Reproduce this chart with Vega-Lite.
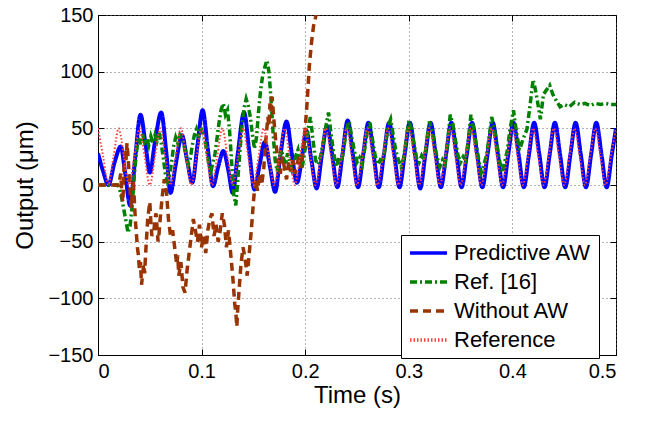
{
"$schema": "https://vega.github.io/schema/vega-lite/v6.json",
"width": 518, "height": 340,
"autosize": {"type": "none"},
"padding": {"left": 98, "top": 15, "right": 31, "bottom": 67},
"background": "white",
"config": {
  "font": "Liberation Sans",
  "view": {"stroke": "black", "strokeWidth": 1},
  "axis": {"labelFont": "Liberation Sans", "labelFontSize": 20, "labelColor": "black", "titleFont": "Liberation Sans", "titleFontSize": 24, "titleFontWeight": "normal", "titleColor": "black", "domainColor": "black", "tickColor": "black", "tickSize": -6, "gridColor": "#666666", "gridDash": [1, 3], "gridOpacity": 1, "gridWidth": 1}
},
"datasets": {
"pa": [{"t":0,"v":28},{"t":0.005,"v":12},{"t":0.01,"v":0},{"t":0.016,"v":20},{"t":0.022,"v":34},{"t":0.026,"v":12},{"t":0.031,"v":-18},{"t":0.036,"v":25},{"t":0.041,"v":62},{"t":0.046,"v":35},{"t":0.05,"v":11},{"t":0.055,"v":38},{"t":0.061,"v":64},{"t":0.066,"v":28},{"t":0.07,"v":-7},{"t":0.075,"v":18},{"t":0.081,"v":44},{"t":0.086,"v":22},{"t":0.091,"v":2},{"t":0.096,"v":35},{"t":0.101,"v":66},{"t":0.106,"v":32},{"t":0.111,"v":-1},{"t":0.116,"v":16},{"t":0.121,"v":30},{"t":0.126,"v":12},{"t":0.13,"v":-7},{"t":0.135,"v":28},{"t":0.141,"v":64},{"t":0.146,"v":30},{"t":0.151,"v":-4},{"t":0.156,"v":18},{"t":0.161,"v":38},{"t":0.166,"v":16},{"t":0.171,"v":-6},{"t":0.176,"v":26},{"t":0.182,"v":56},{"t":0.187,"v":28},{"t":0.192,"v":2},{"t":0.197,"v":25},{"t":0.201,"v":48},{"t":0.206,"v":22},{"t":0.211,"v":-3},{"t":0.216,"v":26},{"t":0.221,"v":52},{"t":0.226,"v":27},{"t":0.231,"v":-2},{"t":0.236,"v":27},{"t":0.241,"v":57},{"t":0.246,"v":27},{"t":0.251,"v":-2},{"t":0.256,"v":27},{"t":0.261,"v":55},{"t":0.266,"v":27},{"t":0.271,"v":-2},{"t":0.276,"v":27},{"t":0.281,"v":55},{"t":0.286,"v":27},{"t":0.291,"v":-2},{"t":0.296,"v":27},{"t":0.301,"v":55},{"t":0.306,"v":27},{"t":0.311,"v":-3},{"t":0.316,"v":27},{"t":0.321,"v":55},{"t":0.326,"v":27},{"t":0.331,"v":-2},{"t":0.336,"v":27},{"t":0.341,"v":55},{"t":0.346,"v":27},{"t":0.351,"v":-2},{"t":0.356,"v":27},{"t":0.361,"v":55},{"t":0.366,"v":27},{"t":0.371,"v":-2},{"t":0.376,"v":27},{"t":0.381,"v":55},{"t":0.386,"v":27},{"t":0.391,"v":-2},{"t":0.396,"v":27},{"t":0.401,"v":55},{"t":0.406,"v":27},{"t":0.411,"v":-2},{"t":0.416,"v":27},{"t":0.421,"v":55},{"t":0.426,"v":27},{"t":0.431,"v":-2},{"t":0.436,"v":27},{"t":0.441,"v":55},{"t":0.446,"v":27},{"t":0.451,"v":-2},{"t":0.456,"v":27},{"t":0.461,"v":55},{"t":0.466,"v":27},{"t":0.471,"v":-2},{"t":0.476,"v":27},{"t":0.481,"v":55},{"t":0.486,"v":27},{"t":0.491,"v":-2},{"t":0.496,"v":27},{"t":0.5,"v":50}],
"r16": [{"t":0,"v":0},{"t":0.01,"v":0},{"t":0.019,"v":0},{"t":0.021,"v":-4},{"t":0.023,"v":-12},{"t":0.025,"v":-22},{"t":0.027,"v":-32},{"t":0.029,"v":-42},{"t":0.031,"v":-36},{"t":0.033,"v":-18},{"t":0.035,"v":8},{"t":0.037,"v":28},{"t":0.039,"v":42},{"t":0.041,"v":36},{"t":0.043,"v":45},{"t":0.045,"v":38},{"t":0.047,"v":41},{"t":0.049,"v":35},{"t":0.051,"v":43},{"t":0.053,"v":37},{"t":0.055,"v":44},{"t":0.057,"v":39},{"t":0.059,"v":46},{"t":0.061,"v":37},{"t":0.063,"v":24},{"t":0.065,"v":10},{"t":0.067,"v":3},{"t":0.069,"v":8},{"t":0.071,"v":20},{"t":0.073,"v":34},{"t":0.075,"v":42},{"t":0.077,"v":37},{"t":0.079,"v":44},{"t":0.081,"v":40},{"t":0.083,"v":35},{"t":0.085,"v":27},{"t":0.087,"v":18},{"t":0.089,"v":23},{"t":0.091,"v":35},{"t":0.093,"v":44},{"t":0.095,"v":49},{"t":0.097,"v":42},{"t":0.099,"v":51},{"t":0.101,"v":46},{"t":0.103,"v":40},{"t":0.105,"v":30},{"t":0.107,"v":18},{"t":0.109,"v":12},{"t":0.111,"v":20},{"t":0.113,"v":28},{"t":0.115,"v":42},{"t":0.117,"v":56},{"t":0.119,"v":67},{"t":0.121,"v":72},{"t":0.123,"v":62},{"t":0.125,"v":66},{"t":0.127,"v":48},{"t":0.129,"v":20},{"t":0.131,"v":-8},{"t":0.133,"v":-18},{"t":0.135,"v":5},{"t":0.137,"v":30},{"t":0.139,"v":52},{"t":0.141,"v":68},{"t":0.143,"v":76},{"t":0.145,"v":70},{"t":0.147,"v":60},{"t":0.149,"v":45},{"t":0.151,"v":32},{"t":0.153,"v":42},{"t":0.155,"v":65},{"t":0.157,"v":84},{"t":0.159,"v":97},{"t":0.161,"v":104},{"t":0.163,"v":110},{"t":0.165,"v":100},{"t":0.167,"v":76},{"t":0.169,"v":46},{"t":0.171,"v":22},{"t":0.173,"v":12},{"t":0.175,"v":22},{"t":0.177,"v":31},{"t":0.179,"v":24},{"t":0.181,"v":18},{"t":0.183,"v":28},{"t":0.185,"v":21},{"t":0.187,"v":14},{"t":0.189,"v":19},{"t":0.191,"v":26},{"t":0.193,"v":31},{"t":0.195,"v":20},{"t":0.197,"v":15},{"t":0.199,"v":26},{"t":0.2025,"v":48},{"t":0.205,"v":60},{"t":0.2075,"v":40},{"t":0.21,"v":22},{"t":0.2125,"v":18},{"t":0.215,"v":26},{"t":0.2175,"v":38},{"t":0.22,"v":52},{"t":0.2225,"v":64},{"t":0.225,"v":45},{"t":0.2275,"v":28},{"t":0.23,"v":16},{"t":0.2325,"v":24},{"t":0.235,"v":20},{"t":0.2375,"v":34},{"t":0.24,"v":50},{"t":0.2425,"v":56},{"t":0.245,"v":42},{"t":0.2475,"v":30},{"t":0.25,"v":20},{"t":0.2525,"v":24},{"t":0.255,"v":18},{"t":0.2575,"v":32},{"t":0.26,"v":48},{"t":0.2625,"v":55},{"t":0.265,"v":40},{"t":0.2675,"v":26},{"t":0.27,"v":18},{"t":0.2725,"v":22},{"t":0.275,"v":20},{"t":0.2775,"v":35},{"t":0.28,"v":52},{"t":0.2825,"v":58},{"t":0.285,"v":44},{"t":0.2875,"v":30},{"t":0.29,"v":22},{"t":0.2925,"v":16},{"t":0.295,"v":24},{"t":0.2975,"v":40},{"t":0.3,"v":57},{"t":0.3025,"v":50},{"t":0.305,"v":36},{"t":0.3075,"v":24},{"t":0.31,"v":20},{"t":0.3125,"v":26},{"t":0.315,"v":22},{"t":0.3175,"v":40},{"t":0.32,"v":56},{"t":0.3225,"v":48},{"t":0.325,"v":34},{"t":0.3275,"v":24},{"t":0.33,"v":16},{"t":0.3325,"v":22},{"t":0.335,"v":18},{"t":0.3375,"v":38},{"t":0.34,"v":62},{"t":0.3425,"v":54},{"t":0.345,"v":40},{"t":0.3475,"v":26},{"t":0.35,"v":20},{"t":0.3525,"v":25},{"t":0.355,"v":22},{"t":0.3575,"v":40},{"t":0.36,"v":62},{"t":0.3625,"v":50},{"t":0.365,"v":36},{"t":0.3675,"v":22},{"t":0.37,"v":11},{"t":0.3725,"v":18},{"t":0.375,"v":26},{"t":0.3775,"v":42},{"t":0.38,"v":60},{"t":0.3825,"v":50},{"t":0.385,"v":36},{"t":0.3875,"v":22},{"t":0.39,"v":11},{"t":0.3925,"v":20},{"t":0.395,"v":30},{"t":0.3975,"v":48},{"t":0.401,"v":66},{"t":0.404,"v":46},{"t":0.407,"v":31},{"t":0.41,"v":40},{"t":0.414,"v":49},{"t":0.417,"v":70},{"t":0.42,"v":93},{"t":0.422,"v":85},{"t":0.424,"v":75},{"t":0.427,"v":58},{"t":0.43,"v":80},{"t":0.433,"v":84},{"t":0.436,"v":88},{"t":0.439,"v":80},{"t":0.442,"v":75},{"t":0.446,"v":69},{"t":0.45,"v":71},{"t":0.455,"v":69},{"t":0.46,"v":73},{"t":0.465,"v":71},{"t":0.47,"v":72},{"t":0.475,"v":70},{"t":0.48,"v":72},{"t":0.485,"v":71},{"t":0.49,"v":72},{"t":0.495,"v":71},{"t":0.5,"v":71}],
"woaw": [{"t":0,"v":0},{"t":0.02,"v":0},{"t":0.022,"v":10},{"t":0.023,"v":-8},{"t":0.024,"v":-15},{"t":0.025,"v":12},{"t":0.026,"v":30},{"t":0.027,"v":22},{"t":0.028,"v":37},{"t":0.029,"v":25},{"t":0.03,"v":10},{"t":0.031,"v":-5},{"t":0.032,"v":-20},{"t":0.033,"v":-8},{"t":0.034,"v":5},{"t":0.035,"v":-12},{"t":0.036,"v":-30},{"t":0.038,"v":-55},{"t":0.039,"v":-62},{"t":0.04,"v":-75},{"t":0.041,"v":-68},{"t":0.042,"v":-88},{"t":0.043,"v":-80},{"t":0.044,"v":-70},{"t":0.045,"v":-78},{"t":0.046,"v":-60},{"t":0.048,"v":-30},{"t":0.05,"v":-15},{"t":0.051,"v":-32},{"t":0.052,"v":-45},{"t":0.054,"v":-40},{"t":0.055,"v":-30},{"t":0.056,"v":-25},{"t":0.058,"v":-50},{"t":0.059,"v":-42},{"t":0.06,"v":-30},{"t":0.062,"v":-10},{"t":0.064,"v":5},{"t":0.066,"v":-5},{"t":0.068,"v":-30},{"t":0.07,"v":-45},{"t":0.072,"v":-40},{"t":0.074,"v":-55},{"t":0.076,"v":-70},{"t":0.077,"v":-62},{"t":0.078,"v":-80},{"t":0.08,"v":-68},{"t":0.082,"v":-90},{"t":0.084,"v":-95},{"t":0.086,"v":-75},{"t":0.088,"v":-60},{"t":0.09,"v":-45},{"t":0.091,"v":-38},{"t":0.092,"v":-30},{"t":0.094,"v":-40},{"t":0.096,"v":-50},{"t":0.098,"v":-35},{"t":0.1,"v":-55},{"t":0.101,"v":-48},{"t":0.102,"v":-45},{"t":0.104,"v":-60},{"t":0.106,"v":-40},{"t":0.108,"v":-30},{"t":0.11,"v":-25},{"t":0.112,"v":-45},{"t":0.114,"v":-35},{"t":0.116,"v":-50},{"t":0.118,"v":-40},{"t":0.12,"v":-25},{"t":0.122,"v":-35},{"t":0.124,"v":-55},{"t":0.126,"v":-40},{"t":0.128,"v":-60},{"t":0.13,"v":-80},{"t":0.132,"v":-105},{"t":0.133,"v":-112},{"t":0.134,"v":-125},{"t":0.135,"v":-108},{"t":0.136,"v":-95},{"t":0.138,"v":-70},{"t":0.14,"v":-55},{"t":0.142,"v":-65},{"t":0.144,"v":-80},{"t":0.146,"v":-60},{"t":0.148,"v":-40},{"t":0.15,"v":-15},{"t":0.152,"v":5},{"t":0.154,"v":-5},{"t":0.156,"v":10},{"t":0.158,"v":0},{"t":0.16,"v":15},{"t":0.162,"v":40},{"t":0.164,"v":60},{"t":0.165,"v":52},{"t":0.166,"v":72},{"t":0.167,"v":65},{"t":0.168,"v":78},{"t":0.17,"v":55},{"t":0.172,"v":35},{"t":0.174,"v":20},{"t":0.176,"v":10},{"t":0.178,"v":25},{"t":0.18,"v":15},{"t":0.182,"v":5},{"t":0.184,"v":20},{"t":0.186,"v":12},{"t":0.188,"v":22},{"t":0.19,"v":10},{"t":0.192,"v":18},{"t":0.194,"v":25},{"t":0.196,"v":15},{"t":0.198,"v":30},{"t":0.2,"v":50},{"t":0.202,"v":75},{"t":0.204,"v":105},{"t":0.206,"v":125},{"t":0.208,"v":140},{"t":0.21,"v":148},{"t":0.212,"v":160}],
"ref": [{"t":0,"v":50},{"t":0.005,"v":25},{"t":0.01,"v":0},{"t":0.015,"v":25},{"t":0.02,"v":50},{"t":0.025,"v":25},{"t":0.03,"v":0},{"t":0.035,"v":25},{"t":0.04,"v":50},{"t":0.045,"v":25},{"t":0.05,"v":0},{"t":0.055,"v":25},{"t":0.06,"v":50},{"t":0.065,"v":25},{"t":0.07,"v":0},{"t":0.075,"v":25},{"t":0.08,"v":50},{"t":0.085,"v":25},{"t":0.09,"v":0},{"t":0.095,"v":25},{"t":0.1,"v":50},{"t":0.105,"v":25},{"t":0.11,"v":0},{"t":0.115,"v":25},{"t":0.12,"v":50},{"t":0.125,"v":25},{"t":0.13,"v":0},{"t":0.135,"v":25},{"t":0.14,"v":50},{"t":0.145,"v":25},{"t":0.15,"v":0},{"t":0.155,"v":25},{"t":0.16,"v":50},{"t":0.165,"v":25},{"t":0.17,"v":0},{"t":0.175,"v":25},{"t":0.18,"v":50},{"t":0.185,"v":25},{"t":0.19,"v":0},{"t":0.195,"v":25},{"t":0.2,"v":50},{"t":0.205,"v":25},{"t":0.21,"v":0},{"t":0.215,"v":25},{"t":0.22,"v":50},{"t":0.225,"v":25},{"t":0.23,"v":0},{"t":0.235,"v":25},{"t":0.24,"v":50},{"t":0.245,"v":25},{"t":0.25,"v":0},{"t":0.255,"v":25},{"t":0.26,"v":50},{"t":0.265,"v":25},{"t":0.27,"v":0},{"t":0.275,"v":25},{"t":0.28,"v":50},{"t":0.285,"v":25},{"t":0.29,"v":0},{"t":0.295,"v":25},{"t":0.3,"v":50},{"t":0.305,"v":25},{"t":0.31,"v":0},{"t":0.315,"v":25},{"t":0.32,"v":50},{"t":0.325,"v":25},{"t":0.33,"v":0},{"t":0.335,"v":25},{"t":0.34,"v":50},{"t":0.345,"v":25},{"t":0.35,"v":0},{"t":0.355,"v":25},{"t":0.36,"v":50},{"t":0.365,"v":25},{"t":0.37,"v":0},{"t":0.375,"v":25},{"t":0.38,"v":50},{"t":0.385,"v":25},{"t":0.39,"v":0},{"t":0.395,"v":25},{"t":0.4,"v":50},{"t":0.405,"v":25},{"t":0.41,"v":0},{"t":0.415,"v":25},{"t":0.42,"v":50},{"t":0.425,"v":25},{"t":0.43,"v":0},{"t":0.435,"v":25},{"t":0.44,"v":50},{"t":0.445,"v":25},{"t":0.45,"v":0},{"t":0.455,"v":25},{"t":0.46,"v":50},{"t":0.465,"v":25},{"t":0.47,"v":0},{"t":0.475,"v":25},{"t":0.48,"v":50},{"t":0.485,"v":25},{"t":0.49,"v":0},{"t":0.495,"v":25},{"t":0.5,"v":50}]
},
"layer": [
 {"data": {"name": "pa"},
  "mark": {"type": "line", "strokeWidth": 4, "interpolate": "monotone", "clip": true},
  "encoding": {
   "x": {"field": "t", "type": "quantitative", "scale": {"domain": [0, 0.5], "nice": false, "zero": false},
         "axis": {"orient": "bottom", "values": [0, 0.1, 0.2, 0.3, 0.4, 0.5], "format": "~g", "title": "Time (s)", "grid": true, "labelPadding": 12, "titlePadding": 2}},
   "y": {"field": "v", "type": "quantitative", "scale": {"domain": [-150, 150], "nice": false},
         "axis": {"orient": "left", "values": [-150, -100, -50, 0, 50, 100, 150], "title": "Output (μm)", "grid": true, "labelPadding": 11, "titlePadding": 10}},
   "color": {"datum": "Predictive AW", "type": "nominal",
             "scale": {"domain": ["Predictive AW", "Ref. [16]", "Without AW", "Reference"], "range": ["#0000ff", "#008000", "#993300", "#ff4040"]},
             "legend": {"title": null, "orient": "none", "legendX": 303, "legendY": 220, "labelFont": "Liberation Sans", "labelFontSize": 22, "labelColor": "black", "symbolType": "stroke", "symbolSize": 1369, "symbolStrokeWidth": 3.5, "fillColor": "white", "strokeColor": "black", "padding": 7, "rowPadding": 7, "labelOffset": 5, "clipHeight": 22, "labelLimit": 400, "labelExpr": "datum.label + '\u00a0\u00a0\u00a0\u00a0\u00a0'"}},
   "strokeDash": {"datum": "Predictive AW", "type": "nominal",
             "scale": {"domain": ["Predictive AW", "Ref. [16]", "Without AW", "Reference"], "range": [[1, 0], [7, 3, 2, 3], [8, 5], [1.5, 2]]}}
  }},
 {"data": {"name": "r16"},
  "mark": {"type": "line", "strokeWidth": 3.5, "clip": true},
  "encoding": {
   "x": {"field": "t", "type": "quantitative", "axis": {"orient": "top", "values": [0, 0.1, 0.2, 0.3, 0.4, 0.5], "labels": false, "grid": false, "title": null, "domain": false}},
   "y": {"field": "v", "type": "quantitative", "axis": {"orient": "right", "values": [-150, -100, -50, 0, 50, 100, 150], "labels": false, "grid": false, "title": null, "domain": false}},
   "color": {"datum": "Ref. [16]", "type": "nominal"},
   "strokeDash": {"datum": "Ref. [16]", "type": "nominal"}
  }},
 {"data": {"name": "woaw"},
  "mark": {"type": "line", "strokeWidth": 3.5, "clip": true},
  "encoding": {
   "x": {"field": "t", "type": "quantitative", "axis": null},
   "y": {"field": "v", "type": "quantitative", "axis": null},
   "color": {"datum": "Without AW", "type": "nominal"},
   "strokeDash": {"datum": "Without AW", "type": "nominal"}
  }},
 {"data": {"name": "ref"},
  "mark": {"type": "line", "strokeWidth": 2, "interpolate": "monotone", "clip": true},
  "encoding": {
   "x": {"field": "t", "type": "quantitative", "axis": null},
   "y": {"field": "v", "type": "quantitative", "axis": null},
   "color": {"datum": "Reference", "type": "nominal"},
   "strokeDash": {"datum": "Reference", "type": "nominal"}
  }}
],
"resolve": {"axis": {"x": "independent", "y": "independent"}}
}
